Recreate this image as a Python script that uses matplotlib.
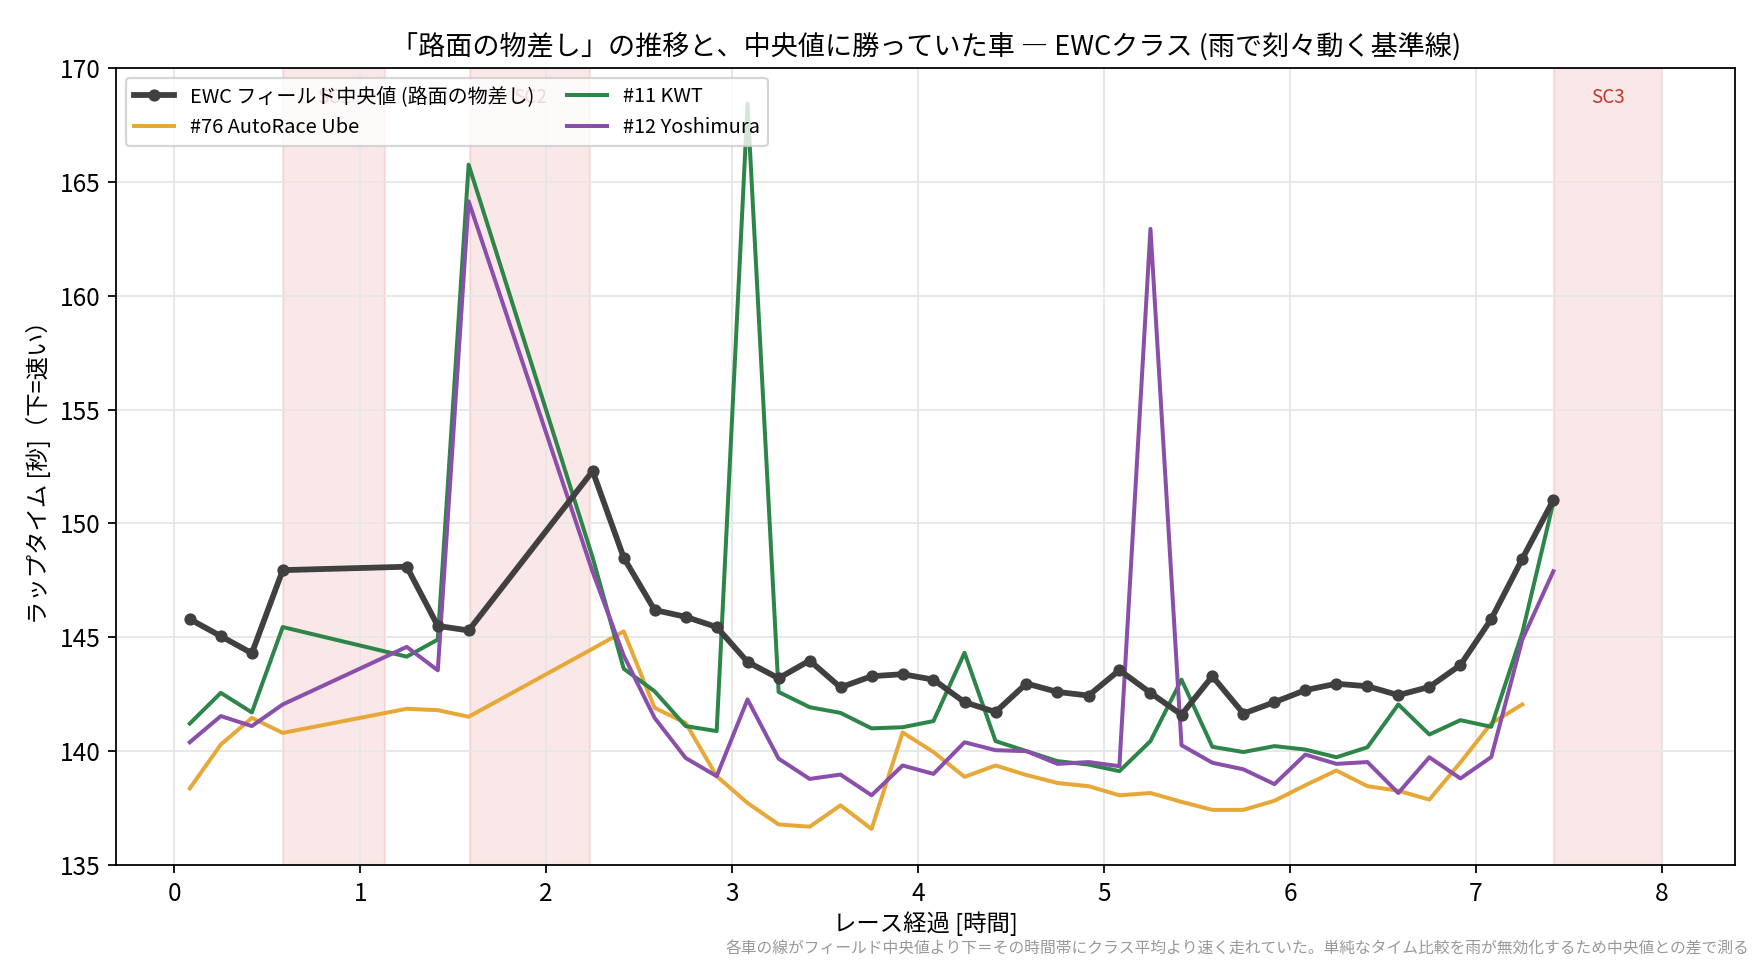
import numpy as np
import matplotlib
matplotlib.use("Agg")
from matplotlib import pyplot as plt

plt.rcParams['font.family'] = ['Noto Sans CJK JP', 'DejaVu Sans']

# race time [h], one sample every 10 min (gaps = SC periods)
hours = [0.083, 0.25, 0.417, 0.583, 1.25, 1.417, 1.583, 2.25, 2.417, 2.583,
         2.75, 2.917, 3.083, 3.25, 3.417, 3.583, 3.75, 3.917, 4.083, 4.25,
         4.417, 4.583, 4.75, 4.917, 5.083, 5.25, 5.417, 5.583, 5.75, 5.917,
         6.083, 6.25, 6.417, 6.583, 6.75, 6.917, 7.083, 7.25, 7.417]

median = [145.8, 145.05, 144.3, 147.95, 148.1, 145.5, 145.3, 152.3, 148.5, 146.2,
          145.9, 145.45, 143.92, 143.2, 143.98, 142.8, 143.29, 143.38, 143.14, 142.15,
          141.72, 142.97, 142.6, 142.44, 143.56, 142.56, 141.6, 143.29, 141.65, 142.15,
          142.68, 142.96, 142.85, 142.46, 142.82, 143.78, 145.8, 148.45, 151.03]

car76 = [138.36, 140.29, 141.46, 140.8, 141.86, 141.8, 141.51, 144.5, 145.26, 141.9,
         141.24, 138.9, 137.72, 136.78, 136.68, 137.62, 136.58, 140.82, 139.96, 138.87,
         139.37, 138.95, 138.6, 138.46, 138.06, 138.16, 137.77, 137.42, 137.42, 137.82,
         138.5, 139.15, 138.46, 138.26, 137.87, 139.5, 141.22, 142.05]

car11 = [141.21, 142.56, 141.7, 145.45, 144.15, 144.9, 165.76, 148.5, 143.62, 142.63,
         141.1, 140.88, 168.44, 142.6, 141.93, 141.68, 141.0, 141.05, 141.32, 144.32,
         140.44, 140.0, 139.56, 139.41, 139.12, 140.44, 143.14, 140.19, 139.96, 140.22,
         140.07, 139.73, 140.17, 142.05, 140.73, 141.36, 141.07, 145.2, 150.93]

car12 = [140.39, 141.54, 141.1, 142.05, 144.58, 143.55, 164.15, 147.87, 144.2, 141.46,
         139.7, 138.9, 142.27, 139.67, 138.78, 138.97, 138.06, 139.37, 139.0, 140.39,
         140.04, 140.0, 139.44, 139.52, 139.34, 162.94, 140.26, 139.49, 139.2, 138.55,
         139.85, 139.44, 139.52, 138.16, 139.73, 138.8, 139.74, 144.9, 147.9]

sc_names = ["SC1", "SC2", "SC3"]
sc_start = [0.585, 1.588, 7.42]
sc_end = [1.135, 2.235, 8.0]

fig, ax = plt.subplots(figsize=(11, 6), dpi=160)
fig.subplots_adjust(left=0.066, right=0.986, top=0.929, bottom=0.099)

for name, s, e in zip(sc_names, sc_start, sc_end):
    ax.axvspan(s, e, color='#d62728', alpha=0.11, zorder=0)
    ax.text((s + e) / 2, 0.963, name, transform=ax.get_xaxis_transform(),
            ha='center', va='center', color='#c0392b', fontsize=8.5, zorder=1)

ax.plot(hours, median, '-o', color='#404040', lw=2.6, ms=4.5, zorder=5,
        label='EWC フィールド中央値 (路面の物差し)')
ax.plot(hours[:len(car76)], car76, '-', color='#e8a838', lw=1.8, zorder=4,
        label='#76 AutoRace Ube')
ax.plot(hours, car11, '-', color='#2e8549', lw=1.8, zorder=4, label='#11 KWT')
ax.plot(hours, car12, '-', color='#8a4fab', lw=1.8, zorder=4, label='#12 Yoshimura')

ax.set_ylim(135, 170)
ax.grid(True, color='#e6e6e6', lw=0.8)
ax.set_axisbelow(True)
ax.tick_params(labelsize=11)

ax.set_title('「路面の物差し」の推移と、中央値に勝っていた車 ― EWCクラス (雨で刻々動く基準線)', fontsize=12.2)
ax.set_xlabel('レース経過 [時間]', fontsize=10.5, labelpad=2)
ax.set_ylabel('ラップタイム [秒]（下=速い）', fontsize=10.5)

leg = ax.legend(loc='upper left', ncol=2, fontsize=9, framealpha=0.8,
                columnspacing=1.6)
leg.set_zorder(10)

fig.text(0.994, 0.003, '各車の線がフィールド中央値より下＝その時間帯にクラス平均より速く走れていた。単純なタイム比較を雨が無効化するため中央値との差で測る',
         ha='right', va='bottom', color='#999999', fontsize=7.1)

fig.savefig('out.png', dpi=160)
